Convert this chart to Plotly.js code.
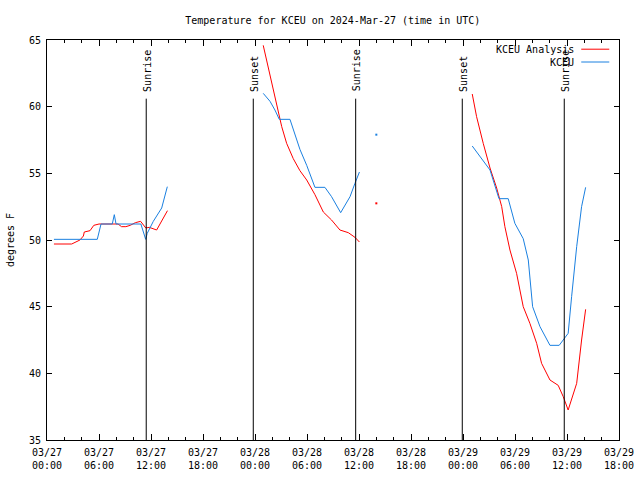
<!DOCTYPE html>
<html>
<head>
<meta charset="utf-8">
<script src="https://cdn.plot.ly/plotly-3.0.1.min.js"></script>
<style>html,body{margin:0;padding:0;background:#fff}#chart{width:640px;height:480px}</style>
</head>
<body>
<div id="chart"></div>
<script>
// KCEU Analysis (red)
var analysisTimes = [
  '2024-03-27 00:48','2024-03-27 02:51','2024-03-27 03:48','2024-03-27 04:12','2024-03-27 04:18',
  '2024-03-27 04:58','2024-03-27 05:24','2024-03-27 06:00','2024-03-27 08:12','2024-03-27 08:36',
  '2024-03-27 09:06','2024-03-27 09:36','2024-03-27 10:12','2024-03-27 10:48','2024-03-27 11:24',
  '2024-03-27 11:48','2024-03-27 12:39','2024-03-27 13:54',
  '2024-03-27 18:00',
  '2024-03-28 00:57','2024-03-28 01:44','2024-03-28 02:18','2024-03-28 03:05','2024-03-28 03:39',
  '2024-03-28 04:25','2024-03-28 05:11','2024-03-28 05:58','2024-03-28 06:55','2024-03-28 07:53',
  '2024-03-28 08:50','2024-03-28 09:48','2024-03-28 10:46','2024-03-28 11:32','2024-03-28 12:03',
  '2024-03-28 18:00',
  '2024-03-29 01:04','2024-03-29 01:34','2024-03-29 02:20','2024-03-29 03:07','2024-03-29 03:53',
  '2024-03-29 04:28','2024-03-29 04:50','2024-03-29 05:25','2024-03-29 06:11','2024-03-29 06:57',
  '2024-03-29 07:43','2024-03-29 08:30','2024-03-29 09:04','2024-03-29 10:02','2024-03-29 10:59',
  '2024-03-29 11:34','2024-03-29 12:08','2024-03-29 13:07','2024-03-29 13:41','2024-03-29 14:09'
];
var analysisTemps = [
  49.7, 49.7, 50.0, 50.3, 50.6,
  50.7, 51.1, 51.2, 51.2, 51.0,
  51.0, 51.1, 51.3, 51.4, 50.9,
  50.95, 50.75, 52.2,
  null,
  64.6, 62.4, 60.75, 58.5, 57.25,
  56.1, 55.2, 54.5, 53.4, 52.1,
  51.5, 50.75, 50.55, 50.2, 49.85,
  null,
  60.95, 59.25, 57.25, 55.4, 53.9,
  52.5, 51.0, 49.25, 47.5, 45.0,
  43.75, 42.25, 40.75, 39.5, 39.1,
  38.25, 37.25, 39.25, 42.5, 44.8
];
// KCEU observations (blue)
var obsTimes = [
  '2024-03-27 00:48','2024-03-27 05:48','2024-03-27 06:14','2024-03-27 07:32','2024-03-27 07:46',
  '2024-03-27 07:58','2024-03-27 10:50','2024-03-27 11:23','2024-03-27 11:34','2024-03-27 12:16',
  '2024-03-27 13:14','2024-03-27 13:53',
  '2024-03-27 18:00',
  '2024-03-28 00:57','2024-03-28 01:44','2024-03-28 02:18','2024-03-28 02:48','2024-03-28 04:02',
  '2024-03-28 04:25','2024-03-28 05:11','2024-03-28 05:58','2024-03-28 06:55','2024-03-28 08:04',
  '2024-03-28 08:50','2024-03-28 09:53','2024-03-28 10:58','2024-03-28 11:32','2024-03-28 12:03',
  '2024-03-28 18:00',
  '2024-03-29 01:04','2024-03-29 02:20','2024-03-29 03:07','2024-03-29 04:09','2024-03-29 05:13',
  '2024-03-29 05:59','2024-03-29 06:57','2024-03-29 07:32','2024-03-29 08:02','2024-03-29 08:53',
  '2024-03-29 10:02','2024-03-29 11:06','2024-03-29 12:08','2024-03-29 12:32','2024-03-29 13:07',
  '2024-03-29 13:41','2024-03-29 14:09'
];
var obsTemps = [
  50.05, 50.05, 51.2, 51.2, 51.9,
  51.2, 51.2, 50.05, 50.5, 51.4,
  52.4, 54.0,
  null,
  61.0, 60.4, 59.75, 59.05, 59.05,
  58.25, 56.8, 55.6, 53.95, 53.95,
  53.25, 52.05, 53.25, 54.25, 55.1,
  null,
  57.05, 55.9, 55.25, 53.1, 53.1,
  51.25, 50.1, 48.5, 45.0, 43.5,
  42.1, 42.1, 43.0, 45.75, 49.5,
  52.5, 53.95
];
// isolated values
var isoTimes = ['2024-03-28 14:00'];
var isoAnalysis = [52.75];
var isoObs = [57.9];

// sun events
var sunTimes = ['2024-03-27 11:27','2024-03-27 23:48','2024-03-28 11:37','2024-03-28 23:55','2024-03-29 11:41'];
var sunLabels = ['Sunrise','Sunset','Sunrise','Sunset','Sunrise'];
var sunLineTop = 60.6;

// tick labels
var tickTimes = ['2024-03-27 00:00','2024-03-27 06:00','2024-03-27 12:00','2024-03-27 18:00',
  '2024-03-28 00:00','2024-03-28 06:00','2024-03-28 12:00','2024-03-28 18:00',
  '2024-03-29 00:00','2024-03-29 06:00','2024-03-29 12:00','2024-03-29 18:00'];
var tickLabels = ['03/27<br>00:00','03/27<br>06:00','03/27<br>12:00','03/27<br>18:00',
  '03/28<br>00:00','03/28<br>06:00','03/28<br>12:00','03/28<br>18:00',
  '03/29<br>00:00','03/29<br>06:00','03/29<br>12:00','03/29<br>18:00'];
var yTicks = [35, 40, 45, 50, 55, 60, 65];

var RED = '#ff0000', BLUE = '#1a80e0';
var FONT = {family: 'DejaVu Sans Mono, Liberation Mono, monospace', size: 10, color: '#000'};

var traces = [
  {x: analysisTimes, y: analysisTemps, type: 'scatter', mode: 'lines', name: 'KCEU Analysis',
   line: {color: RED, width: 1}, connectgaps: false},
  {x: obsTimes, y: obsTemps, type: 'scatter', mode: 'lines', name: 'KCEU',
   line: {color: BLUE, width: 1}, connectgaps: false},
  {x: isoTimes, y: isoAnalysis, type: 'scatter', mode: 'markers', marker: {color: RED, size: 2, symbol: 'square'}},
  {x: isoTimes, y: isoObs, type: 'scatter', mode: 'markers', marker: {color: BLUE, size: 2, symbol: 'square'}}
];

var shapes = sunTimes.map(function (t) {
  return {type: 'line', xref: 'x', yref: 'y', x0: t, x1: t, y0: 35, y1: sunLineTop,
          line: {color: '#000', width: 1}};
});
shapes.push({type: 'line', xref: 'paper', yref: 'paper', x0: 0.934, x1: 0.983, y0: 0.977, y1: 0.977, line: {color: RED, width: 1}});
shapes.push({type: 'line', xref: 'paper', yref: 'paper', x0: 0.934, x1: 0.983, y0: 0.945, y1: 0.945, line: {color: BLUE, width: 1}});

var annotations = sunTimes.map(function (t, i) {
  return {x: t, y: sunLineTop, xref: 'x', yref: 'y', text: sunLabels[i], textangle: -90,
          showarrow: false, xanchor: 'center', yanchor: 'bottom', yshift: 5, xshift: 1, font: FONT};
});
annotations.push({x: 0.924, y: 0.977, xref: 'paper', yref: 'paper', text: 'KCEU Analysis', showarrow: false,
  xanchor: 'right', yanchor: 'middle', font: FONT});
annotations.push({x: 0.924, y: 0.945, xref: 'paper', yref: 'paper', text: 'KCEU', showarrow: false,
  xanchor: 'right', yanchor: 'middle', font: FONT});

var layout = {
  width: 640, height: 480,
  margin: {l: 47, r: 21, t: 40, b: 40, pad: 0},
  paper_bgcolor: '#fff', plot_bgcolor: '#fff',
  showlegend: false,
  font: FONT,
  title: {text: 'Temperature for KCEU on 2024-Mar-27 (time in UTC)', font: FONT,
          x: 0.52, xanchor: 'center', y: 0.958, yanchor: 'middle'},
  xaxis: {
    type: 'date', range: ['2024-03-27 00:00', '2024-03-29 18:00'],
    tickmode: 'array', tickvals: tickTimes, ticktext: tickLabels,
    ticks: 'inside', ticklen: 6, tickcolor: '#000', tickwidth: 1,
    showline: true, linecolor: '#000', linewidth: 1, mirror: 'allticks',
    showgrid: false, zeroline: false, tickfont: FONT, tickangle: 0, ticklabelstandoff: 3,
    minor: {dtick: 7200000, tick0: '2024-03-27 00:00', ticks: 'inside', ticklen: 3, tickcolor: '#000', showgrid: false}
  },
  yaxis: {
    range: [35, 65], tickmode: 'array', tickvals: yTicks, ticktext: yTicks.map(String),
    ticks: 'inside', ticklen: 5, tickcolor: '#000', tickwidth: 1,
    showline: true, linecolor: '#000', linewidth: 1, mirror: 'allticks',
    showgrid: false, zeroline: false, tickfont: FONT, ticklabelstandoff: 3,
    title: {text: 'degrees F', font: FONT, standoff: 12}
  },
  shapes: shapes,
  annotations: annotations
};

Plotly.newPlot('chart', traces, layout, {staticPlot: true, displayModeBar: false});
</script>
</body>
</html>
